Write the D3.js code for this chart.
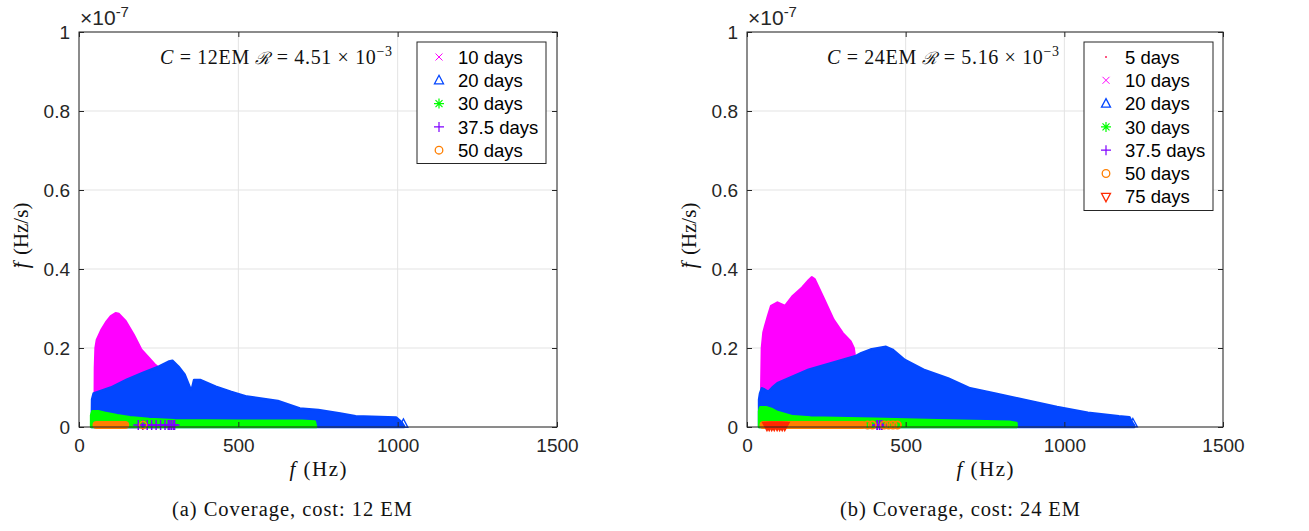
<!DOCTYPE html>
<html><head><meta charset="utf-8">
<script src="https://cdn.jsdelivr.net/npm/d3@7"></script>
<style>body{margin:0;background:#fff}svg{display:block}</style>
</head><body>
<svg id="c" width="1309" height="531"></svg>
<script>
// ---- data (f in Hz, fdot in units of 1e-7 Hz/s) ----
const xTicks = [0, 500, 1000, 1500];
const xTickLabels = ["0", "500", "1000", "1500"];
const yTicks = [0, 0.2, 0.4, 0.6, 0.8, 1];
const yTickLabels = ["0", "0.2", "0.4", "0.6", "0.8", "1"];

const legendLabels12 = ["10 days", "20 days", "30 days", "37.5 days", "50 days"];
const legendLabels24 = ["5 days", "10 days", "20 days", "30 days", "37.5 days", "50 days", "75 days"];

// Panel (a): 12 EM — upper envelopes of the dense marker clouds
const mag12 = [[49,0],[50,0.15],[52,0.2],[56,0.22],[70,0.245],[85,0.265],[100,0.28],[115,0.288],[125,0.286],[146,0.268],[171,0.234],[195,0.196],[220,0.174],[239,0.157],[250,0.15],[250,0]];
const blue12 = [[40,0],[41,0.07],[46,0.085],[100,0.1],[150,0.12],[200,0.137],[250,0.153],[283,0.166],[293,0.168],[312,0.153],[332,0.132],[351,0.094],[356,0.102],[361,0.119],[380,0.119],[429,0.102],[478,0.089],[527,0.077],[624,0.066],[693,0.047],[751,0.043],[820,0.034],[868,0.027],[995,0.024],[1012,0.012],[1020,0.002],[1020,0]];
const blueTip12 = [[1018,0.008]];
const green12 = [[38,0],[38,0.03],[42,0.04],[60,0.04],[80,0.036],[120,0.03],[160,0.025],[220,0.02],[300,0.017],[500,0.016],[700,0.016],[740,0.014],[744,0]];
const purple12 = [186,200,214,228,242,256,270,280,285,290,296,300];
const orangeBand12 = [[55,0.005],[145,0.005]];
const orangeDots12 = [201];

// Panel (b): 24 EM
const dots24 = [[62,0.004]];
const mag24 = [[45,0],[45,0.1],[47,0.2],[52,0.24],[57,0.255],[66,0.28],[76,0.306],[96,0.315],[110,0.31],[120,0.306],[145,0.332],[174,0.353],[195,0.372],[204,0.379],[213,0.374],[243,0.323],[272,0.272],[301,0.238],[326,0.217],[336,0.2],[339,0.183],[341,0]];
const blue24 = [[38,0],[38,0.07],[41,0.085],[47,0.098],[55,0.095],[67,0.089],[80,0.1],[96,0.111],[194,0.145],[341,0.179],[360,0.187],[389,0.196],[438,0.203],[458,0.196],[497,0.17],[556,0.145],[634,0.123],[703,0.098],[781,0.085],[879,0.068],[977,0.051],[1074,0.036],[1172,0.027],[1205,0.025],[1213,0.012],[1220,0.004],[1220,0]];
const blueTip24 = [[1216,0.009]];
const green24 = [[38,0],[38,0.04],[42,0.05],[60,0.05],[80,0.045],[96,0.038],[145,0.027],[200,0.024],[400,0.021],[600,0.017],[830,0.013],[849,0.01],[850,0]];
const purple24 = [410,418,425];
const orangeBand24 = [[52,0.005],[365,0.005]];
const orangeDots24 = [380,395,432,446,460,474];
const red24 = [63,70,78,86,95,103,111,119];

const col = {five:"#ff1f5a", mag:"#ff00ff", blue:"#0346ff", green:"#00ff00", purple:"#7f00ff", orange:"#ff7f00", red:"#ff2a00"};

const svg = d3.select("#c");
const axisCol = "#262626";
const sans = "'Liberation Sans', Arial, Helvetica, sans-serif";
const serif = "'Liberation Serif', 'DejaVu Serif', serif";

function panel(o) {
  const x = d3.scaleLinear().domain([0,1500]).range([o.x0, o.x1]);
  const y = d3.scaleLinear().domain([0,1]).range([427, 32]);
  const g = svg.append("g");
  // grid
  g.selectAll(".gx").data(xTicks).join("line").attr("x1",d=>x(d)).attr("x2",d=>x(d)).attr("y1",y(0)).attr("y2",y(1)).attr("stroke","#e3e3e3").attr("stroke-width",1);
  g.selectAll(".gy").data(yTicks).join("line").attr("y1",d=>y(d)).attr("y2",d=>y(d)).attr("x1",x(0)).attr("x2",x(1500)).attr("stroke","#e3e3e3").attr("stroke-width",1);

  const area = d3.area().x(d=>x(d[0])).y0(y(0)).y1(d=>y(d[1]));

  o.draw(g, x, y, area);

  // axes box
  const ax = g.append("g");
  ax.append("rect").attr("x",x(0)).attr("y",y(1)).attr("width",x(1500)-x(0)).attr("height",y(0)-y(1)).attr("fill","none").attr("stroke",axisCol).attr("stroke-width",1);
  const xa = d3.axisBottom(x).tickValues(xTicks).tickFormat((d,i)=>xTickLabels[i]).tickSizeInner(-5).tickSizeOuter(0).tickPadding(12);
  const ya = d3.axisLeft(y).tickValues(yTicks).tickFormat((d,i)=>yTickLabels[i]).tickSizeInner(-5).tickSizeOuter(0).tickPadding(9);
  const gx = ax.append("g").attr("transform",`translate(0,${y(0)})`).call(xa);
  const gy = ax.append("g").attr("transform",`translate(${x(0)},0)`).call(ya);
  const gx2 = ax.append("g").attr("transform",`translate(0,${y(1)})`).call(d3.axisTop(x).tickValues(xTicks).tickSizeInner(-5).tickSizeOuter(0).tickFormat(""));
  const gy2 = ax.append("g").attr("transform",`translate(${x(1500)},0)`).call(d3.axisRight(y).tickValues(yTicks).tickSizeInner(-5).tickSizeOuter(0).tickFormat(""));
  [gx,gy,gx2,gy2].forEach(a=>{
    a.select(".domain").remove();
    a.selectAll("line").attr("stroke",axisCol);
    a.selectAll("text").attr("fill",axisCol).style("font-family",sans).style("font-size","19px");
  });
  gx.selectAll("text").attr("dy","0.71em");
  gy.selectAll("text").attr("dy","0.35em");

  // exponent
  const ex = g.append("text").attr("x",x(0)+1).attr("y",25).attr("fill",axisCol).style("font-family",sans).style("font-size","21px");
  ex.append("tspan").text("×10");
  ex.append("tspan").attr("dy",-8).style("font-size","15px").text("-7");

  // annotation
  const an = g.append("text").attr("x",o.annX).attr("y",64).attr("fill","#111").style("font-family",serif).style("font-size","20px").attr("textLength",o.annW).attr("lengthAdjust","spacing");
  an.append("tspan").style("font-style","italic").text("C");
  an.append("tspan").text(" = " + o.cost + "EM ");
  an.append("tspan").style("font-style","italic").style("font-family","'DejaVu Serif', serif").style("font-size","17px").text("ℛ");
  an.append("tspan").text(" = " + o.ratio + " × 10");
  an.append("tspan").attr("dy",-8).style("font-size","14px").text("−3");

  // axis labels
  const xl = g.append("text").attr("x",(x(0)+x(1500))/2).attr("y",476).attr("text-anchor","middle").attr("fill","#111").style("font-family",serif).style("font-size","21px").attr("textLength",57).attr("lengthAdjust","spacing");
  xl.append("tspan").style("font-style","italic").text("f");
  xl.append("tspan").text(" (Hz)");
  const yl = g.append("text").attr("transform",`translate(${x(0)-51},${236}) rotate(-90)`).attr("text-anchor","middle").attr("fill","#111").style("font-family",serif).style("font-size","21px");
  yl.append("tspan").style("font-style","italic").text("f");
  yl.append("tspan").attr("dx",-7).text("˙");
  yl.append("tspan").attr("dx",2).text(" (Hz/s)");

  // caption
  g.append("text").attr("x",o.capX).attr("y",516).attr("text-anchor","middle").attr("fill","#111").style("font-family",serif).style("font-size","20.5px").attr("textLength",240).attr("lengthAdjust","spacing").text(o.caption);

  // legend
  const lg = g.append("g");
  const n = o.legend.length;
  lg.append("rect").attr("x",o.legX).attr("y",42).attr("width",o.legW).attr("height",n*23.5+4).attr("fill","#fff").attr("stroke",axisCol).attr("stroke-width",1);
  o.legend.forEach((it,i)=>{
    const cy = 57 + i*23.3;
    const mx = o.legX + 22;
    const m = lg.append("g").attr("transform",`translate(${mx},${cy})`);
    drawMarker(m, it.m, it.c);
    lg.append("text").attr("x",o.legX+41).attr("y",cy).attr("dy","0.36em").attr("fill","#000").style("font-family",sans).style("font-size","18.5px").text(it.t);
  });
}

function drawMarker(m, type, c) {
  if (type==="dot") m.append("circle").attr("r",1).attr("fill",c);
  else if (type==="x") m.append("path").attr("d","M-3.5,-3.5L3.5,3.5M-3.5,3.5L3.5,-3.5").attr("stroke",c).attr("stroke-width",1);
  else if (type==="tri") m.append("path").attr("d","M0,-5L4.5,3.5L-4.5,3.5Z").attr("fill","none").attr("stroke",c).attr("stroke-width",1.3);
  else if (type==="star") m.append("path").attr("d","M0,-5V5M-5,0H5M-3.5,-3.5L3.5,3.5M-3.5,3.5L3.5,-3.5").attr("stroke",c).attr("stroke-width",1.2);
  else if (type==="plus") m.append("path").attr("d","M0,-5V5M-5,0H5").attr("stroke",c).attr("stroke-width",1.2);
  else if (type==="circ") m.append("circle").attr("r",3.8).attr("fill","none").attr("stroke",c).attr("stroke-width",1.3);
  else if (type==="vtri") m.append("path").attr("d","M0,5L4.5,-3.5L-4.5,-3.5Z").attr("fill","none").attr("stroke",c).attr("stroke-width",1.3);
}

function fillArea(g, area, data, c) {
  g.append("path").datum(data).attr("d",area).attr("fill",c).attr("stroke",c).attr("stroke-width",2.5).attr("stroke-linejoin","round");
}

panel({
  x0:79, x1:557, cost:"12", ratio:"4.51", annX:160, annW:232, capX:292, legX:417, legW:129,
  caption:"(a) Coverage, cost: 12 EM",
  legend: legendLabels12.map((t,i)=>({t, m:["x","tri","star","plus","circ"][i], c:[col.mag,col.blue,col.green,col.purple,col.orange][i]})),
  draw:(g,x,y,area)=>{
    fillArea(g, area, mag12, col.mag);
    fillArea(g, area, blue12, col.blue);
    g.selectAll(".bt").data(blueTip12).join("path").attr("transform",d=>`translate(${x(d[0])},${y(d[1])})`).attr("d","M0,-5L4.5,3.5L-4.5,3.5Z").attr("fill","none").attr("stroke",col.blue).attr("stroke-width",1.3);
    fillArea(g, area, green12, col.green);
    g.append("path").datum(purple12).attr("d",d3.line().x(d=>x(d)).y(y(0.005))).attr("stroke",col.purple).attr("stroke-width",1.5).attr("fill","none");
    g.selectAll(".pp").data(purple12).join("path").attr("transform",d=>`translate(${x(d)},${y(0.005)})`).attr("d","M0,-5V5M-5,0H5").attr("stroke",col.purple).attr("stroke-width",1.5);
    g.append("path").datum(orangeBand12).attr("d",d3.line().x(d=>x(d[0])).y(d=>y(d[1]))).attr("stroke",col.orange).attr("stroke-width",8).attr("stroke-linecap","round").attr("fill","none");
    g.selectAll(".od").data(orangeDots12).join("circle").attr("cx",d=>x(d)).attr("cy",y(0.005)).attr("r",3.6).attr("fill","none").attr("stroke",col.orange).attr("stroke-width",1.5);
  }
});

panel({
  x0:747, x1:1223, cost:"24", ratio:"5.16", annX:827, annW:232, capX:960, legX:1084, legW:129,
  caption:"(b) Coverage, cost: 24 EM",
  legend: legendLabels24.map((t,i)=>({t, m:["dot","x","tri","star","plus","circ","vtri"][i], c:[col.five,col.mag,col.blue,col.green,col.purple,col.orange,col.red][i]})),
  draw:(g,x,y,area)=>{
    g.selectAll(".d5").data(dots24).join("circle").attr("cx",d=>x(d[0])).attr("cy",d=>y(d[1])).attr("r",1).attr("fill",col.five);
    fillArea(g, area, mag24, col.mag);
    fillArea(g, area, blue24, col.blue);
    g.selectAll(".bt").data(blueTip24).join("path").attr("transform",d=>`translate(${x(d[0])},${y(d[1])})`).attr("d","M0,-5L4.5,3.5L-4.5,3.5Z").attr("fill","none").attr("stroke",col.blue).attr("stroke-width",1.3);
    fillArea(g, area, green24, col.green);
    g.selectAll(".pp").data(purple24).join("path").attr("transform",d=>`translate(${x(d)},${y(0.005)})`).attr("d","M0,-5V5M-5,0H5").attr("stroke",col.purple).attr("stroke-width",1.8);
    g.append("path").datum(orangeBand24).attr("d",d3.line().x(d=>x(d[0])).y(d=>y(d[1]))).attr("stroke",col.orange).attr("stroke-width",8).attr("stroke-linecap","round").attr("fill","none");
    g.selectAll(".od").data(orangeDots24).join("circle").attr("cx",d=>x(d)).attr("cy",y(0.005)).attr("r",3.6).attr("fill","none").attr("stroke",col.orange).attr("stroke-width",1.8);
    g.selectAll(".rt").data(red24).join("path").attr("transform",d=>`translate(${x(d)},${y(0.003)})`).attr("d","M0,5L4.5,-3.5L-4.5,-3.5Z").attr("fill",col.red).attr("stroke",col.red).attr("stroke-width",1.3);
  }
});
</script>
</body></html>
